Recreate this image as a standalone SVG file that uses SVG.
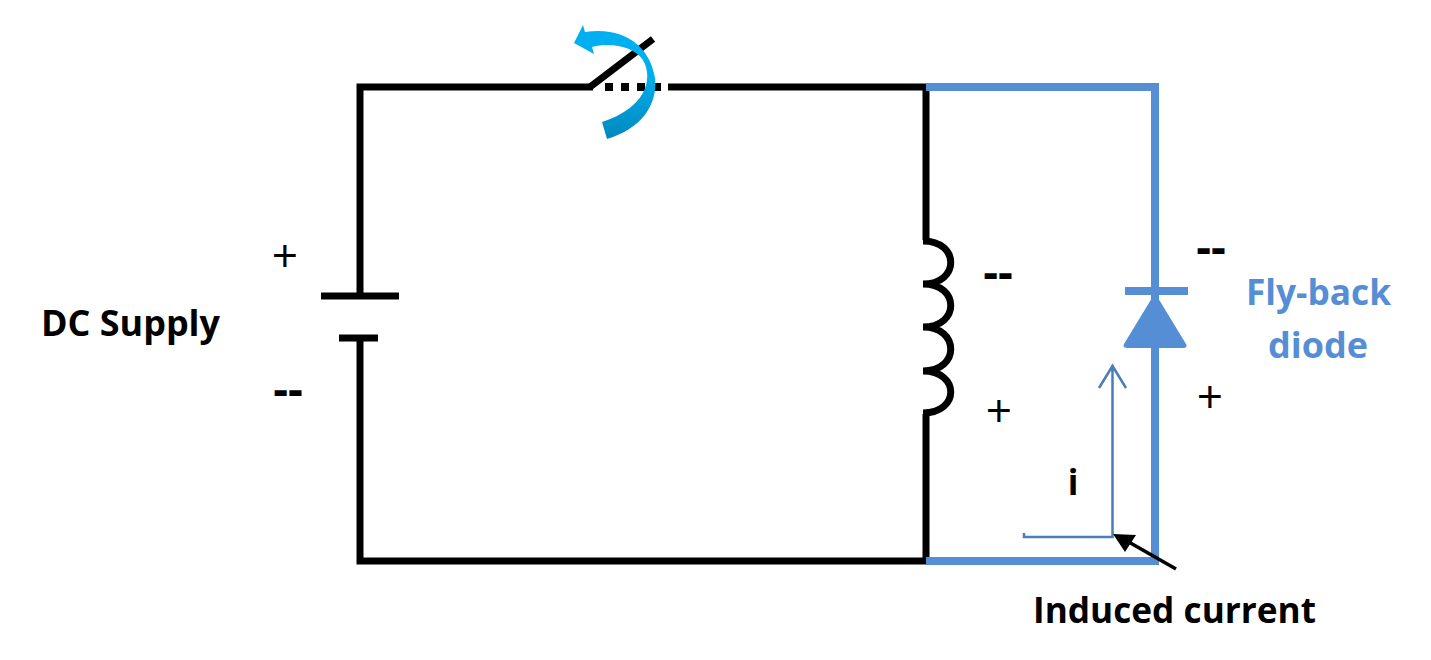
<svg xmlns="http://www.w3.org/2000/svg" width="1431" height="660" viewBox="0 0 1431 660">
<style>
.w{fill:none;stroke:#000;stroke-width:7}
.b{fill:none;stroke:#558ed5;stroke-width:8}
.t{font-family:"Open Sans","Noto Sans",sans-serif;fill:#000}
.l{font-size:35px;font-weight:700}
.s{font-size:46px;font-weight:400}
.d{font-weight:700}
</style>
<defs>
<linearGradient id="g" x1="0" y1="0" x2="0" y2="1"><stop offset="0" stop-color="#00b0f0"/><stop offset="0.45" stop-color="#00aeee"/><stop offset="1" stop-color="#0088bd"/></linearGradient>
</defs>
<rect width="1431" height="660" fill="#fff"/>
<g id="connectors">
<path class="w" d="M360 296V87H593M668 87H926V240M926 414V561H360V338"/>
<path class="b" d="M926 87H1155V561H926"/>
<path d="M1024 533V537H1112.500V365M1099 388L1112.500 366L1126 388" fill="none" stroke="#4a7ebb" stroke-width="2.500"/>
<path d="M1176 569L1127 541" stroke="#000" stroke-width="3.500" fill="none"/>
<path d="M1113 534L1136 535L1125 552Z" fill="#000"/>
</g>
<g id="switch">
<path d="M590 87L653 39" stroke="#000" stroke-width="7" fill="none"/>
<path d="M605 87H661" stroke="#000" stroke-width="8" stroke-dasharray="8 8" fill="none"/>
<path d="M583 25L574 43L594 54L592 47C612 42 634 47 643 60C654 80 645 108 602 122L607 139C641 129 658 105 655 78C650 47 625 26 585 32Z" fill="url(#g)"/>
</g>
<g id="battery">
<path d="M321 296H399M339 338H378" stroke="#000" stroke-width="7" fill="none"/>
</g>
<g id="inductor">
<path d="M923 241C960 241 960 284 923 284C960 284 960 327 923 327C960 327 960 371 923 371C960 371 960 413 923 413" fill="none" stroke="#000" stroke-width="7"/>
</g>
<g id="diode">
<path d="M1125 291H1188" stroke="#558ed5" stroke-width="8" fill="none"/>
<path d="M1155 293L1186 344Q1188 348 1183 348H1128Q1122 348 1124 344Z" fill="#558ed5"/>
</g>
<g id="labels">
<text class="t l" x="41" y="336" textLength="179" lengthAdjust="spacingAndGlyphs">DC Supply</text>
<text class="t s" x="285" y="272" text-anchor="middle">+</text>
<text class="t s d" x="288" y="406" text-anchor="middle">--</text>
<text class="t s d" x="998" y="289" text-anchor="middle">--</text>
<text class="t s" x="999" y="427" text-anchor="middle">+</text>
<text class="t s d" x="1211" y="264" text-anchor="middle">--</text>
<text class="t s" x="1210" y="413" text-anchor="middle">+</text>
<text class="t l" x="1246" y="305" textLength="145" lengthAdjust="spacingAndGlyphs" style="fill:#558ed5">Fly-back</text>
<text class="t l" x="1268" y="358" textLength="100" lengthAdjust="spacingAndGlyphs" style="fill:#558ed5">diode</text>
<text class="t l" x="1073" y="495" text-anchor="middle">i</text>
<text class="t l" x="1033" y="623" textLength="283" lengthAdjust="spacingAndGlyphs">Induced current</text>
</g>
</svg>
